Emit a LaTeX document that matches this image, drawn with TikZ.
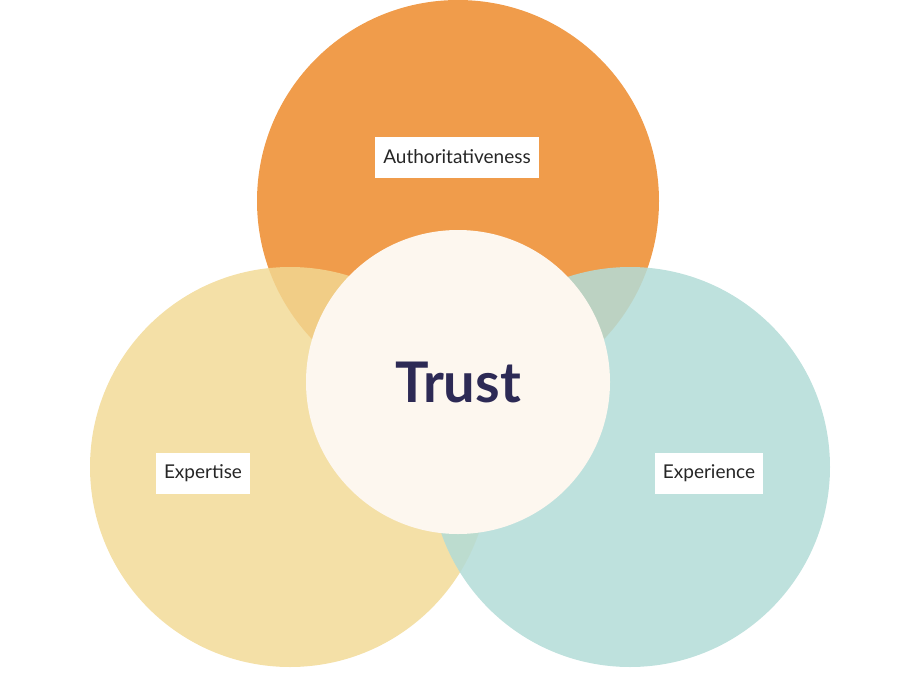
\documentclass[tikz,border=0pt]{standalone}
\usepackage{fontspec}
\setmainfont{Lato}
\begin{document}
\begin{tikzpicture}[x=1pt,y=-1pt,
  lab/.style={fill=white,inner xsep=8pt,inner ysep=0pt,minimum height=41pt,font=\fontsize{19}{22}\selectfont,text=black!85}]
\useasboundingbox (0,0) rectangle (924,675);
\definecolor{orng}{HTML}{F09C4B}
\definecolor{yel}{HTML}{F2D994}
\definecolor{teal}{HTML}{B3DCD7}
\definecolor{cream}{HTML}{FDF7EF}
\definecolor{navy}{HTML}{2D2A55}
\fill[orng] (458,201) circle (201);
\fill[yel,opacity=0.82] (290,467) circle (200);
\fill[teal,opacity=0.85] (630,467) circle (200);
\node[circle,fill=cream,minimum size=304pt,inner sep=0pt] (trust) at (458,382) {};
\node[font=\bfseries\fontsize{56}{60}\selectfont,text=navy] (t) at (458,382) {Trust};
\node[lab] (a) at (457,157) {Authoritativeness};
\node[lab] (e) at (203,473) {Expertise};
\node[lab] (x) at (709,473) {Experience};
\end{tikzpicture}
\end{document}
